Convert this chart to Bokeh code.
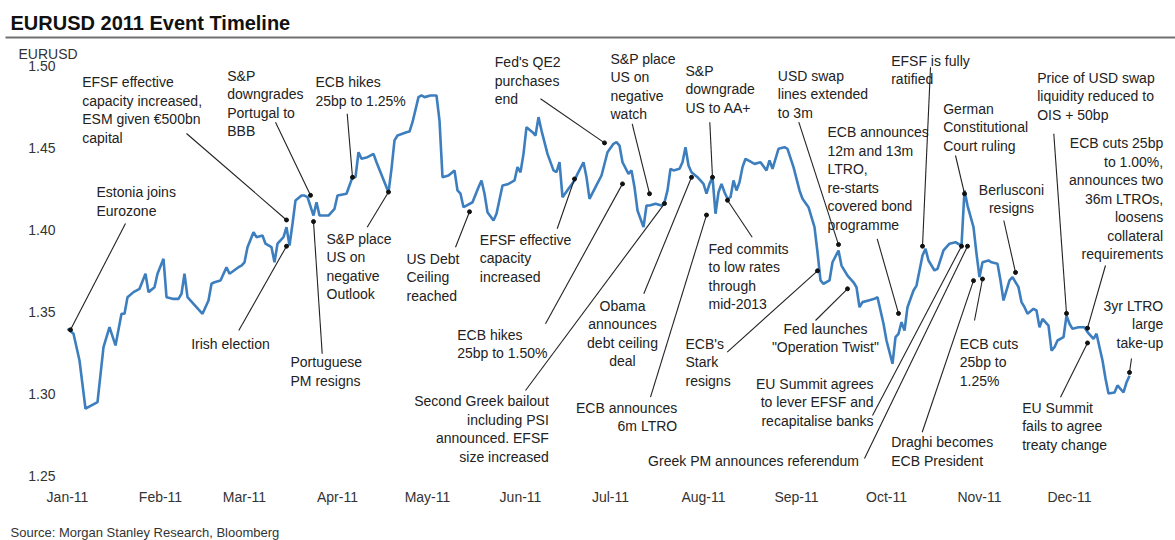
import pandas as pd
from bokeh.plotting import figure
from bokeh.models import (Range1d, FixedTicker, DatetimeTickFormatter,
                          NumeralTickFormatter, Label)
from bokeh.embed import file_html
from bokeh.resources import INLINE
from bokeh.core.properties import value

# ---------------- data ----------------
chart_title = "EURUSD 2011 Event Timeline"
source_note = "Source: Morgan Stanley Research, Bloomberg"
y_title = "EURUSD"
year_start = "2011-01-01"

# days counted from 1 Jan 2011, EURUSD level
day = [0, 2, 4, 6, 8, 10, 12, 13, 14, 16, 18, 19, 20, 22, 24, 26, 27, 29, 30, 32,
       33, 35, 37, 38, 39, 40, 42, 45, 47, 48, 49, 51, 53, 54, 57, 58, 59, 60, 62, 63,
       65, 66, 68, 69, 70, 72, 73, 74, 75, 76, 78, 79, 80, 82, 83, 84, 87, 89, 90, 93,
       95, 96, 97, 98, 100, 102, 103, 105, 107, 108, 109, 110, 113, 114, 115, 117, 118, 119, 121, 123,
       124, 125, 127, 129, 130, 131, 132, 133, 135, 137, 138, 139, 140, 142, 143, 145, 147, 149, 150, 151,
       152, 153, 155, 156, 157, 158, 160, 162, 163, 164, 165, 167, 169, 170, 172, 173, 174, 176, 178, 180,
       182, 183, 184, 185, 187, 188, 189, 190, 192, 193, 194, 196, 198, 199, 200, 201, 202, 204, 205, 206,
       207, 208, 210, 212, 213, 214, 215, 216, 217, 218, 219, 220, 221, 222, 223, 224, 225, 226, 228, 229,
       231, 233, 234, 235, 237, 239, 240, 242, 244, 245, 247, 248, 249, 250, 251, 252, 254, 255, 257, 258,
       260, 262, 263, 264, 265, 267, 269, 270, 271, 272, 273, 275, 276, 277, 278, 279, 280, 282, 283, 284,
       285, 286, 287, 289, 290, 292, 294, 296, 298, 299, 300, 302, 303, 304, 305, 307, 308, 310, 311, 312,
       314, 315, 317, 318, 319, 320, 322, 323, 324, 325, 327, 328, 329, 330, 332, 333, 334, 335, 337, 338,
       339, 340, 342, 343, 344, 345, 346, 347, 349, 350, 352, 353, 354]
eurusd = [1.3396, 1.3366, 1.3203, 1.2909, 1.2929, 1.2949, 1.3284, 1.3345, 1.3406, 1.3295,
          1.3488, 1.3488, 1.3589, 1.3620, 1.3640, 1.3732, 1.3620, 1.3650, 1.3732, 1.3823,
          1.3589, 1.3579, 1.3579, 1.3610, 1.3732, 1.3589, 1.3549, 1.3488, 1.3569, 1.3671,
          1.3680, 1.3691, 1.3772, 1.3732, 1.3772, 1.3782, 1.3802, 1.3894, 1.3985, 1.3955,
          1.3965, 1.3915, 1.3894, 1.3802, 1.3915, 1.3955, 1.4016, 1.3904, 1.4037, 1.4179,
          1.4209, 1.4209, 1.4199, 1.4087, 1.4168, 1.4087, 1.4087, 1.4128, 1.4209, 1.4220,
          1.4321, 1.4321, 1.4473, 1.4433, 1.4443, 1.4463, 1.4412, 1.4321, 1.4229, 1.4372,
          1.4545, 1.4575, 1.4595, 1.4599, 1.4656, 1.4809, 1.4819, 1.4809, 1.4819, 1.4819,
          1.4666, 1.4321, 1.4331, 1.4362, 1.4240, 1.4220, 1.4138, 1.4148, 1.4168, 1.4260,
          1.4301, 1.4220, 1.4107, 1.4057, 1.4098, 1.4270, 1.4280, 1.4301, 1.4382, 1.4351,
          1.4463, 1.4626, 1.4595, 1.4575, 1.4687, 1.4605, 1.4463, 1.4362, 1.4351, 1.4412,
          1.4199, 1.4250, 1.4301, 1.4341, 1.4412, 1.4321, 1.4189, 1.4260, 1.4331, 1.4473,
          1.4524, 1.4534, 1.4514, 1.4412, 1.4341, 1.4362, 1.4260, 1.4118, 1.4016, 1.4148,
          1.4148, 1.4159, 1.4148, 1.4168, 1.4240, 1.4372, 1.4362, 1.4372, 1.4412, 1.4504,
          1.4392, 1.4351, 1.4321, 1.4280, 1.4220, 1.4280, 1.4321, 1.4098, 1.4229, 1.4280,
          1.4229, 1.4189, 1.4199, 1.4301, 1.4240, 1.4290, 1.4382, 1.4433, 1.4412, 1.4402,
          1.4412, 1.4362, 1.4423, 1.4372, 1.4494, 1.4504, 1.4494, 1.4382, 1.4240, 1.4189,
          1.4138, 1.4077, 1.4016, 1.3863, 1.3691, 1.3671, 1.3691, 1.3802, 1.3874, 1.3782,
          1.3721, 1.3680, 1.3650, 1.3528, 1.3559, 1.3569, 1.3579, 1.3589, 1.3508, 1.3427,
          1.3325, 1.3183, 1.3345, 1.3366, 1.3437, 1.3386, 1.3528, 1.3630, 1.3660, 1.3752,
          1.3843, 1.3884, 1.3813, 1.3752, 1.3762, 1.3874, 1.3915, 1.3924, 1.3904, 1.4240,
          1.4148, 1.4016, 1.3854, 1.3711, 1.3802, 1.3813, 1.3802, 1.3793, 1.3691, 1.3569,
          1.3691, 1.3711, 1.3650, 1.3559, 1.3528, 1.3488, 1.3518, 1.3508, 1.3406, 1.3457,
          1.3416, 1.3264, 1.3284, 1.3325, 1.3345, 1.3477, 1.3427, 1.3396, 1.3406, 1.3406,
          1.3406, 1.3376, 1.3335, 1.3366, 1.3284, 1.3203, 1.3093, 1.3002, 1.3008, 1.3051,
          1.3008, 1.3069, 1.3110]

month_ticks = ["2011-01-01", "2011-02-01", "2011-03-01", "2011-04-01", "2011-05-01",
               "2011-06-01", "2011-07-01", "2011-08-01", "2011-09-01", "2011-10-01",
               "2011-11-01", "2011-12-01"]
y_ticks = [1.25, 1.30, 1.35, 1.40, 1.45, 1.50]

event_text = [
    "Estonia joins\nEurozone",
    "EFSF effective\ncapacity increased,\nESM given €500bn\ncapital",
    "S&P\ndowngrades\nPortugal to\nBBB",
    "ECB hikes\n25bp to 1.25%",
    "S&P place\nUS on\nnegative\nOutlook",
    "Irish election",
    "Portuguese\nPM resigns",
    "US Debt\nCeiling\nreached",
    "EFSF effective\ncapacity\nincreased",
    "Fed's QE2\npurchases\nend",
    "S&P place\nUS on\nnegative\nwatch",
    "S&P\ndowngrade\nUS to AA+",
    "ECB hikes\n25bp to 1.50%",
    "Second Greek bailout\nincluding PSI\nannounced. EFSF\nsize increased",
    "Obama\nannounces\ndebt ceiling\ndeal",
    "ECB announces\n6m LTRO",
    "Fed commits\nto low rates\nthrough\nmid-2013",
    "ECB's\nStark\nresigns",
    "Fed launches\n\"Operation Twist\"",
    "USD swap\nlines extended\nto 3m",
    "ECB announces\n12m and 13m\nLTRO,\nre-starts\ncovered bond\nprogramme",
    "EFSF is fully\nratified",
    "German\nConstitutional\nCourt ruling",
    "Berlusconi\nresigns",
    "Price of USD swap\nliquidity reduced to\nOIS + 50bp",
    "ECB cuts 25bp\nto 1.00%,\nannounces two\n36m LTROs,\nloosens\ncollateral\nrequirements",
    "3yr LTRO\nlarge\ntake-up",
    "EU Summit\nfails to agree\ntreaty change",
    "EU Summit agrees\nto lever EFSF and\nrecapitalise banks",
    "Greek PM announces referendum",
    "ECB cuts\n25bp to\n1.25%",
    "Draghi becomes\nECB President",
]
event_day = [1, 73, 81, 95, 107, 73, 82, 134, 169, 179, 194, 215, 185, 199, 208, 213,
             220, 250, 260, 257, 277, 285, 299, 316, 333, 340, 354, 340, 298, 300, 305, 302]
event_level = [1.339, 1.406, 1.421, 1.432, 1.423, 1.390, 1.405, 1.411, 1.431, 1.453,
               1.422, 1.432, 1.428, 1.416, 1.432, 1.409, 1.418, 1.375, 1.364, 1.391,
               1.349, 1.390, 1.422, 1.374, 1.349, 1.340, 1.313, 1.331, 1.390, 1.390,
               1.370, 1.369]

# ---------------- layout (canvas pixels) ----------------
# (align, text x, first-line y, leader start x, leader start y)
label_layout = [
    ("left", 96, 191.5, 125, 223), ("left", 81.7, 81.7, 186, 133),
    ("left", 226.7, 75, 275, 121.7), ("left", 315, 81.7, 346.7, 113.3),
    ("left", 326, 238.3, 366.7, 226.7), ("left", 190.7, 343.3, 238.3, 330),
    ("left", 290, 361.7, 321.7, 353.3), ("left", 406, 258.3, 455, 246.7),
    ("left", 479.3, 239.3, 556.7, 228.3), ("left", 494.3, 61.7, 540, 98.3),
    ("left", 610, 58.3, 631.7, 123.3), ("left", 685, 70, 709.3, 121.7),
    ("left", 456.7, 334.3, 545, 323.3), ("right", 548.3, 400.7, 525, 390),
    ("center", 622, 305, 643.3, 293.3), ("right", 676.7, 407.3, 650, 396.7),
    ("left", 708, 248.3, 751.7, 236.7), ("left", 685, 343.3, 726.7, 351.7),
    ("center", 825, 328, 815, 320), ("left", 777.3, 75, 798.3, 121.7),
    ("left", 827, 131.7, 876.7, 238.3), ("left", 890.7, 60, 930, 66.7),
    ("left", 942.7, 108.3, 955, 155), ("center", 1011, 189, 1003.3, 220),
    ("left", 1036.7, 77.3, 1053.3, 133.3), ("right", 1162.7, 142.7, 1105, 265),
    ("right", 1162.7, 305, 1131, 358), ("left", 1021.7, 407.3, 1060, 396.7),
    ("right", 873, 383.3, 872, 415), ("right", 858.5, 460, 864, 458),
    ("left", 959.3, 343.3, 974, 320), ("left", 890.7, 441.7, 921.7, 431.7),
]

W, H = 1175, 540
X0_PX, PX_PER_DAY = 67.0, 3.0          # 1 Jan 2011 sits at x=67, 3 px per day
Y150_PX, PX_PER_UNIT = 65.3, 1640.0    # 1.50 sits at y=65.3
AXIS_X_PX, AXIS_Y_PX = 60, 482         # where the two axes are drawn
LINE_GAP = 18.5
FONT = "Liberation Sans"
TXT = "#222222"

DAY_MS = 86400000.0
T0 = pd.Timestamp(year_start).value / 1e6


def px_x(px):
    return T0 + (px - X0_PX) / PX_PER_DAY * DAY_MS


def px_y(py):
    return 1.50 - (py - Y150_PX) / PX_PER_UNIT


p = figure(width=W, height=H, x_axis_type="datetime", output_backend="svg",
           toolbar_location=None,
           x_range=Range1d(px_x(0), px_x(W)), y_range=Range1d(px_y(H), px_y(0)),
           min_border_left=0, min_border_right=0, min_border_top=0, min_border_bottom=0)
p.outline_line_color = None
p.xgrid.visible = False
p.ygrid.visible = False
p.background_fill_color = "white"
p.border_fill_color = "white"

for ax in (p.xaxis[0], p.yaxis[0]):
    ax.axis_line_color = None
    ax.major_tick_line_color = None
    ax.minor_tick_line_color = None
    ax.major_tick_out = 0
    ax.major_tick_in = 0
    ax.minor_tick_out = 0
    ax.minor_tick_in = 0
    ax.major_label_text_font = FONT
    ax.major_label_text_font_size = "14px"
    ax.major_label_text_color = "#333333"

p.yaxis.fixed_location = px_x(AXIS_X_PX)
p.xaxis.fixed_location = px_y(AXIS_Y_PX)
p.yaxis.ticker = FixedTicker(ticks=y_ticks)
p.yaxis.formatter = NumeralTickFormatter(format="0.00")
p.yaxis.major_label_standoff = 5
p.xaxis.ticker = FixedTicker(ticks=[pd.Timestamp(m).value / 1e6 for m in month_ticks])
p.xaxis.formatter = DatetimeTickFormatter(days="%b-%y", months="%b-%y", years="%b-%y")
p.xaxis.major_label_standoff = 6

# header rule
p.segment(px_x(5), px_y(37), px_x(1175), px_y(37), line_color="#707070", line_width=2)

# price line
xs = [T0 + d * DAY_MS for d in day]
p.line(xs, eurusd, line_color="#3d7ebf", line_width=2.6)

# event leaders and dots
ex = [T0 + d * DAY_MS for d in event_day]
lx0 = [px_x(l[3]) for l in label_layout]
ly0 = [px_y(l[4]) for l in label_layout]
p.segment(lx0, ly0, ex, event_level, line_color="#222222", line_width=1.1)
p.scatter(ex, event_level, size=4, color="#111111")

# event texts
rows = {a: dict(x=[], y=[], t=[]) for a in ("left", "right", "center")}
for txt, (al, tx, ty, _, _) in zip(event_text, label_layout):
    for i, line in enumerate(txt.split("\n")):
        rows[al]["x"].append(px_x(tx))
        rows[al]["y"].append(px_y(ty + i * LINE_GAP))
        rows[al]["t"].append(line)
for al, r in rows.items():
    p.text(x=r["x"], y=r["y"], text=r["t"], text_align=al, text_baseline="middle",
           text_font=value(FONT), text_font_size="14px", text_color=TXT)

# header, y title, source
p.add_layout(Label(x=px_x(10), y=px_y(22), text=chart_title, text_font=FONT,
                   text_font_size="20px", text_font_style="bold", text_color="#111111",
                   text_baseline="middle"))
p.add_layout(Label(x=px_x(18), y=px_y(53), text=y_title, text_font=FONT,
                   text_font_size="14px", text_color="#333333", text_baseline="middle"))
p.add_layout(Label(x=px_x(10), y=px_y(532), text=source_note, text_font=FONT,
                   text_font_size="13px", text_color="#333333", text_baseline="middle"))

open("out.html", "w", encoding="utf-8").write(file_html(p, INLINE))
